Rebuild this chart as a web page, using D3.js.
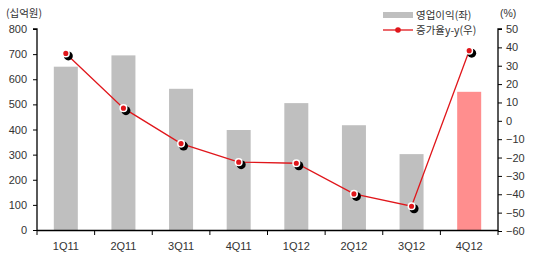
<!DOCTYPE html>
<html><head><meta charset="utf-8">
<script src="https://cdn.jsdelivr.net/npm/d3@7"></script>
<style>
body{margin:0;background:#fff;}
text{font-family:"Liberation Sans",Arial,sans-serif;}
.kr{font-family:"Noto Sans CJK KR","Liberation Sans",sans-serif;}
</style></head>
<body>
<script>
const categories = ["1Q11","2Q11","3Q11","4Q11","1Q12","2Q12","3Q12","4Q12"];
const profit = [650, 695, 562, 398, 505, 417, 302, 550];
const growth = [36.7, 6.9, -12.4, -22.5, -23.1, -39.8, -46.5, 38.2];
const leftTicks = [0,100,200,300,400,500,600,700,800];
const rightTicks = [-60,-50,-40,-30,-20,-10,0,10,20,30,40,50];

const W = 537, H = 256;
const x0 = 37, x1 = 498, yTop = 29, yBot = 230;
const svg = d3.select("body").append("svg").attr("width", W).attr("height", H);

const x = d3.scaleBand().domain(categories).range([x0, x1]).paddingInner(0.58).paddingOuter(0.29);
const xb = d3.scaleBand().domain(categories).range([x0, x1]);
const yL = d3.scaleLinear().domain([0, 800]).range([yBot, yTop]);
const yR = d3.scaleLinear().domain([-60, 50]).range([yBot+1, yTop]);

// bars
svg.selectAll("rect.bar").data(categories).enter().append("rect")
  .attr("x", d => xb(d) + xb.bandwidth()/2 - 12)
  .attr("width", 24)
  .attr("y", (d,i) => yL(profit[i]))
  .attr("height", (d,i) => yBot - yL(profit[i]))
  .attr("fill", (d,i) => i === 7 ? "#FF8E8E" : "#BFBFBF");

// axes
const axL = d3.axisLeft(yL).tickValues(leftTicks).tickSize(4).tickPadding(6);
const gL = svg.append("g").attr("transform", `translate(${x0},0)`).call(axL);
const axR = d3.axisRight(yR).tickValues(rightTicks).tickSize(4).tickPadding(4)
  .tickFormat(d => d < 0 ? "\u2212" + Math.abs(d) : d);
const gR = svg.append("g").attr("transform", `translate(${x1},0)`).call(axR);
[gL, gR].forEach(g => {
  g.select(".domain").attr("stroke", "#000").attr("stroke-width", 1.3);
  g.selectAll(".tick line").attr("stroke", "#000");
  g.selectAll(".tick text").attr("font-size", 11).attr("fill", "#333");
});
gL.select(".domain").attr("d", `M-4,${yTop}H0V${yBot}`);
gR.select(".domain").attr("d", `M4,${yTop}H0V${yBot+1}`);

// x axis
svg.append("line").attr("x1", x0).attr("x2", x1).attr("y1", yBot+0.5).attr("y2", yBot+0.5)
  .attr("stroke", "#000").attr("stroke-width", 1.3);
const bounds = categories.map(d => xb(d)).concat([x1]);
svg.selectAll("line.xt").data(bounds).enter().append("line")
  .attr("x1", d => d).attr("x2", d => d).attr("y1", yBot).attr("y2", yBot+5)
  .attr("stroke", "#000");
svg.selectAll("text.xl").data(categories).enter().append("text")
  .attr("x", d => xb(d) + xb.bandwidth()/2).attr("y", 250)
  .attr("text-anchor", "middle").attr("font-size", 11).attr("fill", "#333").text(d => d);

// line
const cx = d => xb(d) + xb.bandwidth()/2;
const line = d3.line().x((d,i) => cx(categories[i])).y(d => yR(d));
svg.append("path").datum(growth).attr("d", line).attr("fill", "none")
  .attr("stroke", "#E0161B").attr("stroke-width", 1.3);
svg.selectAll("circle.sh").data(growth).enter().append("circle")
  .attr("cx", (d,i) => cx(categories[i]) + 2.5).attr("cy", d => yR(d) + 2.5)
  .attr("r", 4.5).attr("fill", "#000");
svg.selectAll("circle.pt").data(growth).enter().append("circle")
  .attr("cx", (d,i) => cx(categories[i])).attr("cy", d => yR(d))
  .attr("r", 3.3).attr("fill", "#E0161B").attr("stroke", "#fff").attr("stroke-width", 1.5);

// units
svg.append("text").attr("class","kr").attr("x", 6).attr("y", 17).attr("font-size", 10.5).attr("fill","#333").text("(십억원)");
svg.append("text").attr("x", 500).attr("y", 17).attr("font-size", 10.5).attr("fill","#333").text("(%)");

// legend
svg.append("rect").attr("x", 383).attr("y", 12).attr("width", 30).attr("height", 6).attr("fill", "#BFBFBF");
svg.append("text").attr("class","kr").attr("x", 416).attr("y", 18.5).attr("font-size", 10.5).attr("fill","#333").text("영업이익(좌)");
svg.append("line").attr("x1", 383).attr("x2", 413).attr("y1", 30).attr("y2", 30).attr("stroke", "#E0161B").attr("stroke-width", 1.3);
svg.append("circle").attr("cx", 398).attr("cy", 30).attr("r", 2.8).attr("fill", "#E0161B");
svg.append("text").attr("class","kr").attr("x", 416).attr("y", 34).attr("font-size", 10.5).attr("fill","#333").text("증가율y-y(우)");
</script>
</body></html>
